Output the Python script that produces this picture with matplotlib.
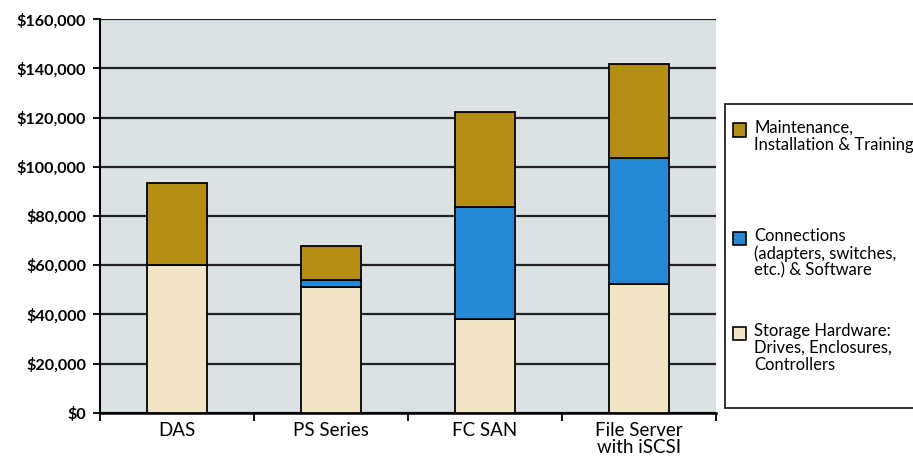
import matplotlib.pyplot as plt
from matplotlib.patches import Rectangle
from matplotlib.ticker import FuncFormatter
import numpy as np

plt.rcParams['font.family'] = ['Lato', 'DejaVu Sans']

# data
categories = ['DAS', 'PS Series', 'FC SAN', 'File Server\nwith iSCSI']
storage = [60000, 51000, 38000, 52500]
connections = [0, 3000, 45500, 51000]
maintenance = [33500, 14000, 39000, 38500]

series_names = ['Maintenance,\nInstallation & Training',
                'Connections\n(adapters, switches,\netc.) & Software',
                'Storage Hardware:\nDrives, Enclosures,\nControllers']
series_colors = ['#B38E12', '#2389D6', '#F2E5C6']

fig = plt.figure(figsize=(9.13, 4.59), dpi=100)
ax = fig.add_axes([100/913, 46.3/459, 616/913, 393.4/459])
ax.set_facecolor('#DAE2E4')

x = np.arange(len(categories))
w = 0.39
ax.bar(x, storage, w, color=series_colors[2], edgecolor='black', linewidth=1.3, zorder=3)
bottom2 = np.array(storage)
ax.bar(x, connections, w, bottom=bottom2, color=series_colors[1], edgecolor='black', linewidth=1.3, zorder=3)
bottom3 = bottom2 + np.array(connections)
ax.bar(x, maintenance, w, bottom=bottom3, color=series_colors[0], edgecolor='black', linewidth=1.3, zorder=3)

ax.set_xlim(-0.5, len(categories) - 0.5)
ax.set_ylim(0, 160000)
ax.set_yticks(np.arange(0, 160001, 20000))
ax.yaxis.set_major_formatter(FuncFormatter(lambda v, p: '${:,.0f}'.format(v)))
ax.yaxis.grid(True, color='#222222', linewidth=1.6, zorder=1)
ax.set_axisbelow(True)

ax.set_xticks(x)
ax.set_xticklabels(categories, fontsize=13.5, linespacing=0.95)
ax.set_xticks(np.arange(-0.5, len(categories)), minor=True)
ax.tick_params(axis='x', which='major', length=0, pad=7)
ax.tick_params(axis='x', which='minor', length=6, width=1.3, direction='out')
ax.tick_params(axis='y', length=5, width=1.3, direction='out', pad=5)
for lab in ax.get_yticklabels():
    lab.set_fontweight('bold')
    lab.set_fontsize(11.6)

for s in ['top', 'right']:
    ax.spines[s].set_visible(False)
ax.spines['left'].set_linewidth(1.5)
ax.spines['bottom'].set_linewidth(1.8)

# legend box (runs off the right edge like the reference)
H = 459.0
Wf = 913.0
fig.patches.append(Rectangle((725/Wf, 1 - 408/H), 400/Wf, 304/H, transform=fig.transFigure,
                             facecolor='white', edgecolor='#222222', linewidth=1.3))
handle_y = [130, 238, 333]
for name, col, hy in zip(series_names, series_colors, handle_y):
    fig.patches.append(Rectangle((733/Wf, 1 - (hy + 6.5)/H), 13/Wf, 13/H, transform=fig.transFigure,
                                 facecolor=col, edgecolor='black', linewidth=1.2))
    fig.text(754/Wf, 1 - (hy - 10)/H, name, fontsize=12, va='top', ha='left', linespacing=1.08)

fig.savefig('out.png', dpi=100)
